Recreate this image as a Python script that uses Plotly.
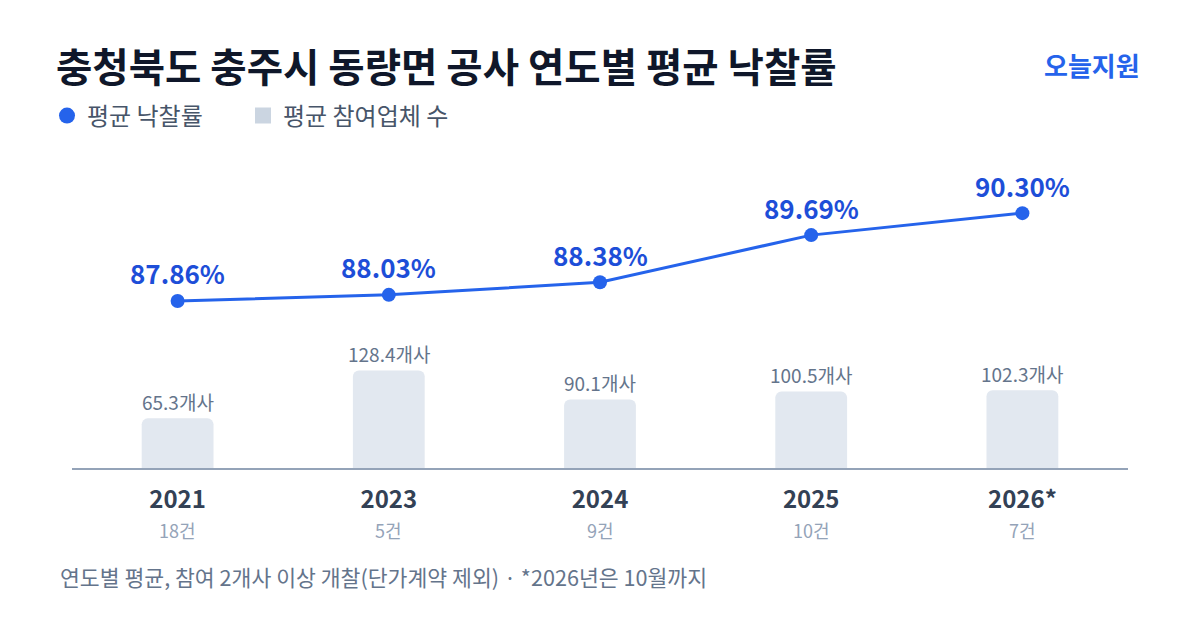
import plotly.graph_objects as go

years = ["2021", "2023", "2024", "2025", "2026*"]
counts = ["18건", "5건", "9건", "10건", "7건"]
rates = [87.86, 88.03, 88.38, 89.69, 90.30]
bidders = [65.3, 128.4, 90.1, 100.5, 102.3]

FONT = "Noto Sans CJK KR"
BLUE = "#2563eb"
LABEL_BLUE = "#1d4ed8"

fig = go.Figure()

fig.add_trace(go.Bar(
    x=years, y=bidders, yaxis="y2", width=0.34,
    marker=dict(color="#e2e8f0", cornerradius=6, line=dict(width=0)),
    showlegend=False, hoverinfo="skip",
))
fig.add_trace(go.Scatter(
    x=years, y=rates, mode="lines+markers",
    line=dict(color=BLUE, width=3),
    marker=dict(color=BLUE, size=14),
    showlegend=False, hoverinfo="skip",
))
# legend entries
fig.add_trace(go.Scatter(
    x=[years[0]], y=[None], mode="markers", name="평균 낙찰률",
    marker=dict(color=BLUE, size=16, symbol="circle"), legend="legend",
))
fig.add_trace(go.Scatter(
    x=[years[0]], y=[None], mode="markers", name="평균 참여업체 수",
    marker=dict(color="#cbd5e1", size=16, symbol="square"), legend="legend2",
))

annotations = []
for i, r in enumerate(rates):
    annotations.append(dict(
        x=i, y=r, xref="x", yref="y", text=f"<b>{r:.2f}%</b>",
        showarrow=False, yshift=28, yanchor="middle",
        font=dict(family=FONT, size=26, color=LABEL_BLUE),
    ))
for i, b in enumerate(bidders):
    annotations.append(dict(
        x=i, y=b, xref="x", yref="y2", text=f"{b:.1f}개사",
        showarrow=False, yshift=17, yanchor="middle",
        font=dict(family=FONT, size=19, color="#64748b"),
    ))
for i, c in enumerate(counts):
    annotations.append(dict(
        x=i, y=0, xref="x", yref="paper", text=c,
        showarrow=False, yshift=-62, yanchor="middle",
        font=dict(family=FONT, size=18, color="#94a3b8"),
    ))
annotations.append(dict(
    x=(1142 - 72) / 1056, y=(468 - 65) / 318, xref="paper", yref="paper",
    text="<b>오늘지원</b>", showarrow=False, xanchor="right", yanchor="middle",
    font=dict(family=FONT, size=26, color=BLUE),
))
annotations.append(dict(
    x=(58 - 72) / 1056, y=(468 - 576) / 318, xref="paper", yref="paper",
    text="연도별 평균, 참여 2개사 이상 개찰(단가계약 제외) · *2026년은 10월까지",
    showarrow=False, xanchor="left", yanchor="middle",
    font=dict(family=FONT, size=21.6, color="#64748b"),
))

legend_common = dict(
    orientation="h", xanchor="left", yanchor="middle",
    y=(468 - 116) / 318,
    font=dict(family=FONT, size=24, color="#475569"),
    itemsizing="trace", bgcolor="rgba(0,0,0,0)",
)

fig.update_layout(
    width=1200, height=630,
    margin=dict(l=72, r=72, t=150, b=162, pad=0),
    paper_bgcolor="white", plot_bgcolor="white",
    title=dict(
        text="<b>충청북도 충주시 동량면 공사 연도별 평균 낙찰률</b>",
        x=56 / 1200, xref="container", xanchor="left",
        y=1 - 68 / 630, yref="container", yanchor="middle",
        font=dict(family=FONT, size=39.5, color="#0f172a"),
    ),
    legend=dict(x=(47 - 72) / 1056, **legend_common),
    legend2=dict(x=(243 - 72) / 1056, **legend_common),
    xaxis=dict(
        type="category", categoryorder="array", categoryarray=years,
        range=[-0.5, 4.5],
        showline=True, linecolor="#94a3b8", linewidth=2,
        showgrid=False, zeroline=False, ticks="",
        tickfont=dict(family=FONT, size=24, color="#334155", weight=700),
        ticklabelstandoff=9,
    ),
    yaxis=dict(range=[83.221, 92.054], visible=False, showgrid=False, zeroline=False),
    yaxis2=dict(range=[0, 418.4], overlaying="y", visible=False, showgrid=False, zeroline=False),
    annotations=annotations,
    showlegend=True,
)

fig.write_html("out.html")
